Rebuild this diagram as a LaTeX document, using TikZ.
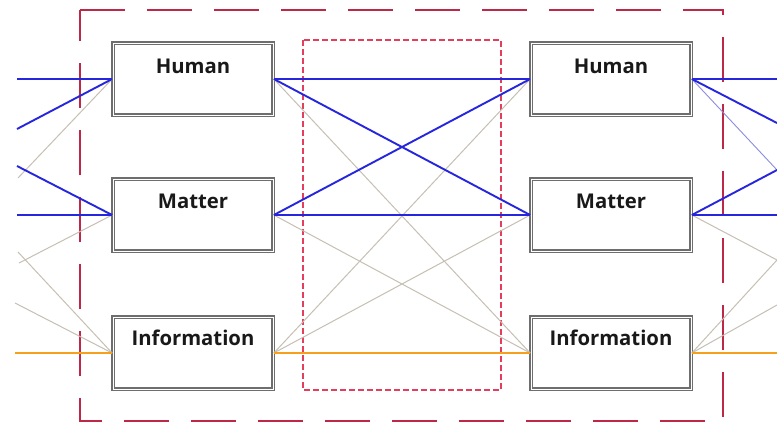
\documentclass[tikz,border=0pt]{standalone}
\usepackage{fontspec}
\newfontfamily\boxfont{Open Sans}
\definecolor{lnblue}{RGB}{38,38,222}
\definecolor{lnthin}{RGB}{140,140,225}
\definecolor{lngray}{RGB}{198,192,180}
\definecolor{lnorange}{RGB}{246,160,30}
\definecolor{outerred}{RGB}{190,40,72}
\definecolor{innerred}{RGB}{228,62,92}
\definecolor{boxgray}{RGB}{110,110,110}
\tikzset{
  blk/.style={draw=boxgray, double=white, double distance=0.9pt, line width=1.7pt,
              minimum width=160pt, minimum height=72pt, inner sep=0pt, fill=white},
  lbl/.style={font=\boxfont\bfseries\fontsize{20.3}{22}\selectfont, inner sep=0pt, text=black!90},
  bluel/.style={draw=lnblue, line width=1.9pt},
  bluethin/.style={draw=lnthin, line width=0.9pt},
  grayl/.style={draw=lngray, line width=1pt},
  orangel/.style={draw=lnorange, line width=2.3pt},
  outerbox/.style={draw=outerred, line width=2.2pt, dash pattern=on 45pt off 22pt},
  innerbox/.style={draw=innerred, line width=1.4pt, dash pattern=on 6pt off 3pt},
}
\begin{document}
\begin{tikzpicture}[x=1pt,y=-1pt]
\useasboundingbox (0,0) rectangle (777,424);
\fill[white] (0,0) rectangle (777,424);

% dashed frames
\draw[outerbox] (80,10) -- (723,10) -- (723,421) -- (80,421) -- cycle;
\draw[innerbox] (303,40) rectangle (501,390);

% boxes
\node[blk] (hl) at (193,79) {};
\node[blk] (ml) at (193,215) {};
\node[blk] (il) at (193,353) {};
\node[blk] (hr) at (611,79) {};
\node[blk] (mr) at (611,215) {};
\node[blk] (ir) at (611,353) {};

% free ends
\coordinate (l1) at (17,79);
\coordinate (l2) at (17,129);
\coordinate (l3) at (18,178);
\coordinate (l4) at (17,166);
\coordinate (l5) at (17,215);
\coordinate (l6) at (19,263);
\coordinate (l7) at (18,252);
\coordinate (l8) at (15,303);
\coordinate (l9) at (15,353);
\coordinate (r1) at (777,79);
\coordinate (r2) at (777,123);
\coordinate (r3) at (777,170);
\coordinate (r4) at (777,215);
\coordinate (r5) at (777,260);
\coordinate (r6) at (777,305);
\coordinate (r7) at (777,353);

% left external
\draw[grayl] (l3) -- (hl.west);
\draw[grayl] (l6) -- (ml.west);
\draw[grayl] (l7) -- (il.west);
\draw[grayl] (l8) -- (il.west);
\draw[bluel] (l1) -- (hl.west);
\draw[bluel] (l2) -- (hl.west);
\draw[bluel] (l4) -- (ml.west);
\draw[bluel] (l5) -- (ml.west);
\draw[orangel] (l9) -- (il.west);

% middle
\draw[grayl] (hl.east) -- (ir.west);
\draw[grayl] (ml.east) -- (ir.west);
\draw[grayl] (il.east) -- (hr.west);
\draw[grayl] (il.east) -- (mr.west);
\draw[bluel] (hl.east) -- (hr.west);
\draw[bluel] (hl.east) -- (mr.west);
\draw[bluel] (ml.east) -- (hr.west);
\draw[bluel] (ml.east) -- (mr.west);
\draw[orangel] (il.east) -- (ir.west);

% right external
\draw[grayl] (mr.east) -- (r5);
\draw[grayl] (ir.east) -- (r5);
\draw[grayl] (ir.east) -- (r6);
\draw[bluethin] (hr.east) -- (r3);
\draw[bluel] (hr.east) -- (r1);
\draw[bluel] (hr.east) -- (r2);
\draw[bluel] (mr.east) -- (r3);
\draw[bluel] (mr.east) -- (r4);
\draw[orangel] (ir.east) -- (r7);

% labels
\node[lbl] (hlt) at ([yshift=-24pt]hl.north) {Human};
\node[lbl] (mlt) at ([yshift=-23pt]ml.north) {Matter};
\node[lbl] (ilt) at ([yshift=-22pt]il.north) {Information};
\node[lbl] (hrt) at ([yshift=-24pt]hr.north) {Human};
\node[lbl] (mrt) at ([yshift=-23pt]mr.north) {Matter};
\node[lbl] (irt) at ([yshift=-22pt]ir.north) {Information};
\end{tikzpicture}
\end{document}
